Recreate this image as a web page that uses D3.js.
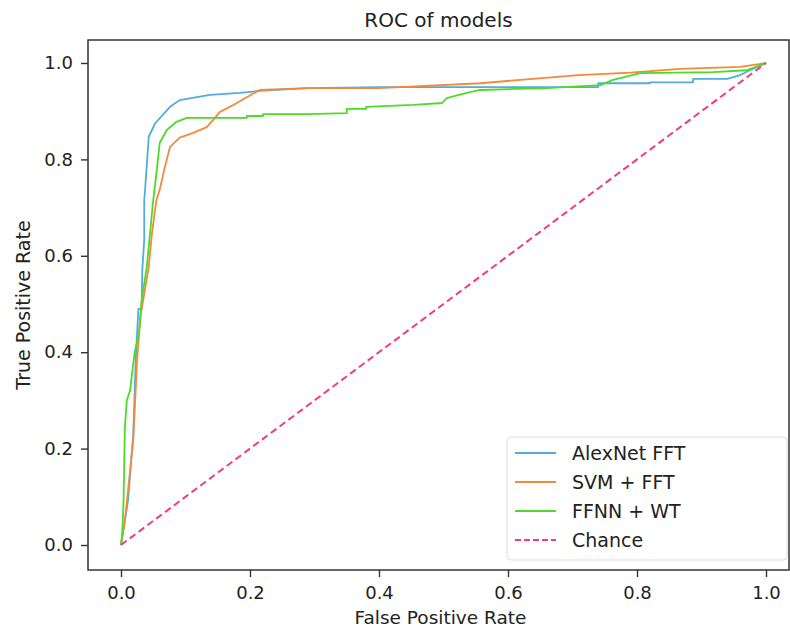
<!DOCTYPE html>
<html>
<head>
<meta charset="utf-8">
<script src="https://cdn.jsdelivr.net/npm/d3@7"></script>
<style>
  body { margin: 0; background: #fff; }
  text { font-family: "DejaVu Sans", sans-serif; fill: #222; }
</style>
</head>
<body>
<div id="chart"></div>
<script>
"use strict";

// ROC curves: [fpr, tpr]
const alexnet = [
  [0,0],[0.011,0.093],[0.019,0.23],[0.023,0.39],[0.027,0.49],[0.032,0.49],[0.033,0.57],
  [0.036,0.633],[0.036,0.716],[0.037,0.73],[0.043,0.847],[0.053,0.875],[0.076,0.909],
  [0.091,0.923],[0.138,0.934],[0.184,0.938],[0.215,0.942],[0.29,0.948],[0.40,0.95],
  [0.74,0.95],[0.74,0.958],[0.82,0.958],[0.82,0.96],[0.887,0.96],[0.887,0.967],
  [0.94,0.967],[0.96,0.975],[0.975,0.985],[1,1]
];
const svm = [
  [0,0],[0.006,0.05],[0.019,0.218],[0.025,0.384],[0.03,0.473],[0.043,0.577],[0.048,0.647],
  [0.055,0.716],[0.06,0.737],[0.068,0.784],[0.076,0.826],[0.091,0.845],[0.112,0.855],
  [0.133,0.867],[0.143,0.882],[0.153,0.898],[0.174,0.913],[0.195,0.929],[0.215,0.944],
  [0.29,0.948],[0.40,0.948],[0.557,0.958],[0.619,0.965],[0.71,0.975],[0.79,0.98],
  [0.867,0.988],[0.96,0.992],[1,1]
];
const ffnn = [
  [0,0],[0.002,0.025],[0.004,0.093],[0.006,0.245],[0.009,0.3],[0.014,0.32],[0.021,0.398],
  [0.028,0.44],[0.032,0.508],[0.04,0.577],[0.045,0.647],[0.05,0.716],[0.055,0.772],
  [0.06,0.834],[0.071,0.861],[0.086,0.878],[0.102,0.886],[0.195,0.886],[0.195,0.89],
  [0.22,0.89],[0.22,0.894],[0.288,0.894],[0.35,0.896],[0.35,0.905],[0.38,0.905],
  [0.38,0.909],[0.453,0.913],[0.498,0.917],[0.505,0.927],[0.536,0.938],[0.557,0.944],
  [0.66,0.948],[0.743,0.954],[0.763,0.965],[0.805,0.979],[0.918,0.981],[0.97,0.985],[1,1]
];
const chance = [[0,0],[1,1]];

const seriesNames = ["AlexNet FFT", "SVM + FFT", "FFNN + WT", "Chance"];
const seriesColors = ["#52ace0", "#f5893a", "#4cdc28", "#f03c82"];
const seriesData = [alexnet, svm, ffnn, chance];
const tickValues = [0, 0.2, 0.4, 0.6, 0.8, 1.0];

const W = 790, H = 630;
const plot = {left: 88, top: 40, right: 789, bottom: 570};

const svg = d3.select("#chart").append("svg")
  .attr("width", W).attr("height", H);

// 0 -> 121px, 1 -> 766px ; 0 -> 545px, 1 -> 63px
const x = d3.scaleLinear().domain([0, 1]).range([121, 766]);
const y = d3.scaleLinear().domain([0, 1]).range([545, 63]);

// title
svg.append("text")
  .attr("x", (plot.left + plot.right) / 2).attr("y", 27)
  .attr("text-anchor", "middle").style("font-size", "20px")
  .text("ROC of models");

// axes
const xAxis = d3.axisBottom(x).tickValues(tickValues).tickFormat(d3.format(".1f")).tickSizeOuter(0).tickSize(7).tickPadding(9);
const yAxis = d3.axisLeft(y).tickValues(tickValues).tickFormat(d3.format(".1f")).tickSizeOuter(0).tickSize(7).tickPadding(8);

const gx = svg.append("g").attr("transform", `translate(0,${plot.bottom})`).call(xAxis);
const gy = svg.append("g").attr("transform", `translate(${plot.left},0)`).call(yAxis);
[gx, gy].forEach(g => {
  g.select(".domain").remove();
  g.selectAll(".tick line").attr("stroke", "#333").attr("stroke-width", 1.4);
  g.selectAll(".tick text").style("font-size", "18px").attr("fill", "#222")
    .style("font-family", '"DejaVu Sans", sans-serif');
});

// clip for curves
svg.append("clipPath").attr("id", "clip").append("rect")
  .attr("x", plot.left).attr("y", plot.top)
  .attr("width", plot.right - plot.left).attr("height", plot.bottom - plot.top);

const line = d3.line().x(d => x(d[0])).y(d => y(d[1]));

const curves = svg.append("g").attr("clip-path", "url(#clip)");
seriesData.forEach((data, i) => {
  curves.append("path")
    .attr("d", line(data))
    .attr("fill", "none")
    .attr("stroke", seriesColors[i])
    .attr("stroke-width", i === 3 ? 2 : 1.8)
    .attr("stroke-dasharray", i === 3 ? "7,4" : null)
    .attr("stroke-linejoin", "round");
});

// frame
svg.append("rect")
  .attr("x", plot.left).attr("y", plot.top)
  .attr("width", plot.right - plot.left).attr("height", plot.bottom - plot.top)
  .attr("fill", "none").attr("stroke", "#333").attr("stroke-width", 1.5);

// axis labels
svg.append("text")
  .attr("x", (plot.left + plot.right) / 2 + 2).attr("y", 624)
  .attr("text-anchor", "middle").style("font-size", "18.5px")
  .text("False Positive Rate");

svg.append("text")
  .attr("transform", `translate(30,305) rotate(-90)`)
  .attr("text-anchor", "middle").style("font-size", "19px")
  .text("True Positive Rate");

// legend
const legend = svg.append("g").attr("transform", "translate(507,437)");
legend.append("rect")
  .attr("width", 280).attr("height", 123).attr("rx", 4)
  .attr("fill", "#fff").attr("fill-opacity", 0.85)
  .attr("stroke", "#ddd");

seriesNames.forEach((name, i) => {
  const ly = 16 + i * 29;
  legend.append("line")
    .attr("x1", 8).attr("x2", 49).attr("y1", ly).attr("y2", ly)
    .attr("stroke", seriesColors[i]).attr("stroke-width", 1.8)
    .attr("stroke-dasharray", i === 3 ? "6,3" : null);
  legend.append("text")
    .attr("x", 65).attr("y", ly + 7)
    .style("font-size", "19px")
    .text(name);
});
</script>
</body>
</html>
